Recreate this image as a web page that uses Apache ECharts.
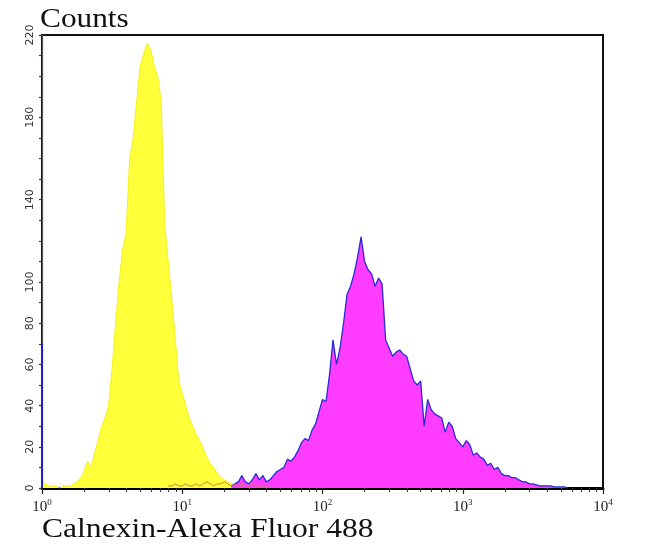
<!DOCTYPE html>
<html>
<head>
<meta charset="utf-8">
<script src="https://cdn.jsdelivr.net/npm/echarts@6/dist/echarts.min.js"></script>
<style>html,body{margin:0;padding:0;background:#fff;}#c{width:650px;height:550px;}</style>
</head>
<body>
<div id="c"></div>
<script>
// Bin width in decades (log10 units); bin i is centred at i * binStep decades
const binStep = 0.025;
const xDecades = [0, 1, 2, 3, 4];
const yTickLabels = [0, 20, 40, 60, 80, 100, 140, 180, 220];

// Isotype control (yellow), bins starting at index 0
const yellowStart = 0;
const yellowCounts = [3, 2, 1, 1, 1, 0, 1, 1, 1, 2, 3, 5, 8, 13, 10, 17, 23, 30, 34, 40,
  58, 80, 100, 116, 124, 160, 170, 188, 205, 211, 216, 213, 205, 200, 188, 128, 110, 92, 73, 52,
  46, 40, 34, 30, 26, 23, 19, 15, 12, 10, 7, 5, 4, 3, 2, 1.5, 1, 1];

// Calnexin stained sample (magenta), bins starting at index 54
const magentaStart = 54;
const magentaCounts = [1, 2, 3, 6, 3, 2, 4, 7, 4, 6, 3, 4, 6, 8, 9, 10, 14, 13, 15, 18,
  22, 24, 23, 28, 31, 37, 43, 42, 55, 72, 60, 68, 80, 94, 98, 104, 112, 122, 110, 106,
  104, 98, 102, 99, 72, 68, 64, 66, 67, 65, 64, 58, 52, 50, 52, 30, 43, 38, 36, 35,
  34, 27, 32, 30, 24, 22, 20, 23, 21, 16, 17, 15, 14, 11, 12, 9, 10, 7, 6, 6,
  5, 5, 4, 3, 3, 2, 2, 1.5, 1, 1, 1, 1, 0.5, 0.5, 0.5, 0.5, 0];
// Counts piled in the first channel of the stained sample
const magentaFirstBin = 70;

// Faint orange trace along the baseline
const orangeStart = 36;
const orangeCounts = [1, 1, 2, 1, 1, 2, 1, 1, 2, 1, 2, 3, 2, 1, 2, 2, 3, 2, 1, 2,
  1, 2, 1, 1, 2, 1, 1, 1, 1, 1];

function toPoints(start, counts) {
  return counts.map((c, i) => [(start + i) * binStep, c]);
}

const minorTicks = [];
for (let d = 0; d < 4; d++) {
  for (let k = 2; k <= 9; k++) minorTicks.push(d + Math.log10(k));
}

const chart = echarts.init(document.getElementById('c'), null, { renderer: 'canvas' });
const serif = '"Liberation Serif", "Times New Roman", serif';

chart.setOption({
  animation: false,
  backgroundColor: '#ffffff',
  grid: { left: 42, right: 47, top: 35, bottom: 62, show: true, borderColor: '#111', borderWidth: 2, backgroundColor: 'transparent' },
  xAxis: [
    {
      type: 'value', min: 0, max: 4, interval: 1,
      axisLine: { show: true, onZero: false, lineStyle: { color: '#000', width: 3 } },
      axisTick: { show: true, length: 6, inside: false, lineStyle: { color: '#222', width: 1.2 }, customValues: xDecades },
      splitLine: { show: false },
      axisLabel: {
        show: true, margin: 10, customValues: xDecades,
        formatter: v => '{b|10}{s|' + v + '}',
        rich: {
          b: { fontFamily: serif, fontSize: 15, color: '#222', verticalAlign: 'bottom' },
          s: { fontFamily: serif, fontSize: 9, color: '#222', verticalAlign: 'top', padding: [0, 0, 8, 0] }
        }
      }
    },
    {
      type: 'value', min: 0, max: 4, position: 'bottom',
      axisLine: { show: false },
      axisTick: { show: true, length: 4, lineStyle: { color: '#333', width: 1 }, customValues: minorTicks },
      axisLabel: { show: false },
      splitLine: { show: false }
    }
  ],
  yAxis: {
    type: 'value', min: 0, max: 220, interval: 10,
    axisLine: { show: true, lineStyle: { color: '#555', width: 1.2 } },
    axisTick: { show: true, length: 3, lineStyle: { color: '#333', width: 1.2 } },
    splitLine: { show: false },
    axisLabel: {
      customValues: yTickLabels, rotate: 90, margin: 6,
      fontFamily: '"DejaVu Sans", sans-serif', fontSize: 11, color: '#333'
    }
  },
  series: [
    {
      type: 'line', data: toPoints(yellowStart, yellowCounts), symbol: 'none',
      lineStyle: { color: '#F2F21E', width: 1 },
      areaStyle: { color: '#FFFF3A', opacity: 1 }, z: 2
    },
    {
      type: 'line', data: toPoints(magentaStart, magentaCounts), symbol: 'none',
      lineStyle: { color: '#2A2AD6', width: 1.3 },
      areaStyle: { color: '#FF3CFF', opacity: 1 }, z: 3
    },
    {
      type: 'line', data: [[0, 0], [0, magentaFirstBin]], symbol: 'none',
      lineStyle: { color: '#2222CC', width: 2 }, z: 4
    },
    {
      type: 'line', data: toPoints(orangeStart, orangeCounts), symbol: 'none',
      lineStyle: { color: '#C9803A', width: 1 }, z: 4
    }
  ],
  graphic: [
    {
      type: 'text', x: 40, y: 6, scaleX: 1.16,
      style: { text: 'Counts', font: '27px ' + serif, fill: '#111', textAlign: 'left', textVerticalAlign: 'top' }
    },
    {
      type: 'text', x: 42, y: 516, scaleX: 1.17,
      style: { text: 'Calnexin-Alexa Fluor 488', font: '27px ' + serif, fill: '#111', textAlign: 'left', textVerticalAlign: 'top' }
    }
  ]
});
</script>
</body>
</html>
